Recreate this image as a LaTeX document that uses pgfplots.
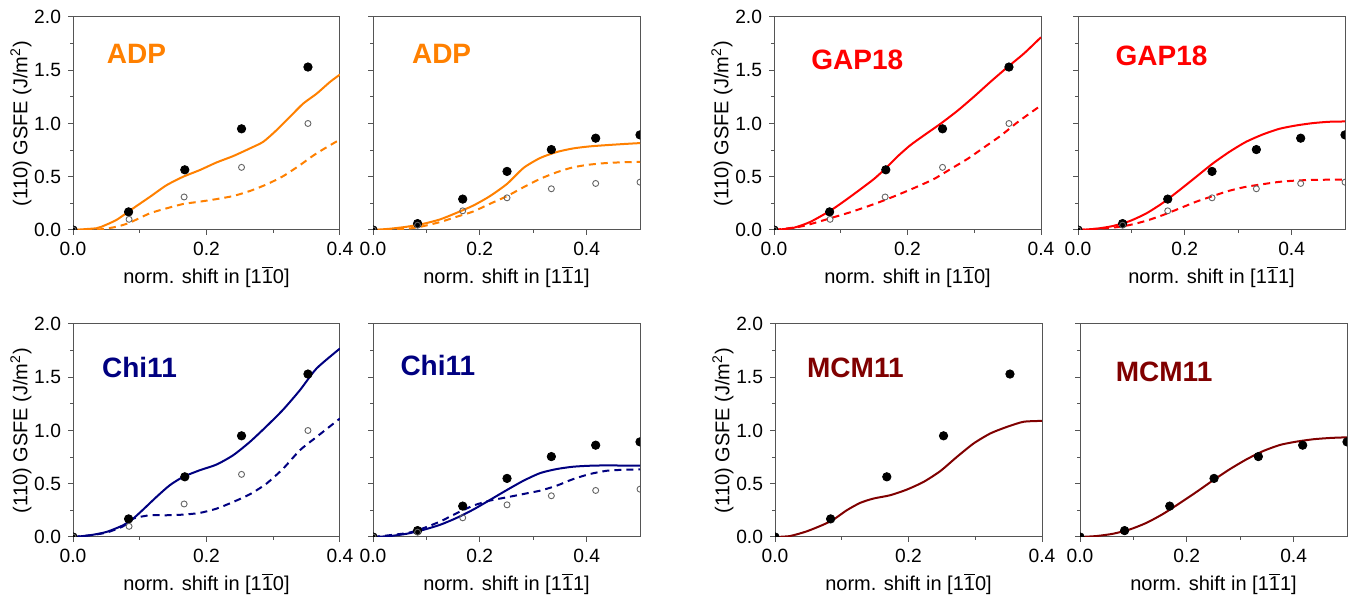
\documentclass[border=0pt]{standalone}
\usepackage{pgfplots}
\pgfplotsset{compat=1.18}
\usepackage{pgfplotstable}
\usepackage{fontspec}
\setmainfont{Liberation Sans}
\definecolor{cOra}{RGB}{255,128,0}
\definecolor{cRed}{RGB}{255,0,0}
\definecolor{cNavy}{RGB}{0,0,128}
\definecolor{cWine}{RGB}{128,0,0}
\definecolor{axgray}{RGB}{85,85,85}
\definecolor{opengray}{RGB}{100,100,100}

% reference (DFT) points
\pgfplotstableread{
x y
0 0
0.0833 0.17
0.1675 0.565
0.2525 0.95
0.352 1.53
}\refLfull
\pgfplotstableread{
x y
0 0
0.084 0.10
0.1665 0.31
0.2525 0.588
0.352 1.0
}\refLopen
\pgfplotstableread{
x y
0 0
0.0835 0.06
0.168 0.29
0.251 0.55
0.334 0.755
0.417 0.862
0.5 0.893
}\refRfull
\pgfplotstableread{
x y
0 0
0.0835 0.045
0.168 0.18
0.251 0.302
0.334 0.387
0.417 0.437
0.5 0.449
}\refRopen

\newcommand{\ob}[1]{$\overline{\mbox{#1}}$}
\newcommand{\ylab}{(110) GSFE (J/m\textsuperscript{2})}
\newcommand{\xlabA}{norm. shift in [1\ob{1}0]}
\newcommand{\xlabB}{norm. shift in [1\ob{1}1]}

\tikzset{ttl/.style={font=\bfseries\fontsize{14}{16}\selectfont, anchor=center}}

\pgfplotsset{
  gsfe/.style={
    scale only axis, width=133.5pt, height=106.5pt,
    anchor=south west,
    ymin=0, ymax=2, ytick={0,0.5,1,1.5,2}, minor y tick num=1,
    xmin=0, xtick={0,0.2,0.4}, minor x tick num=1,
    tick pos=left, tick align=outside,
    major tick length=2.5pt, minor tick length=1.5pt,
    axis line style={draw=axgray, line width=0.5pt},
    every tick/.style={draw=axgray, line width=0.5pt},
    ticklabel style={font=\fontsize{9.6}{12}\selectfont},
    label style={font=\fontsize{9.8}{12}\selectfont},
    clip marker paths=true,
    /pgf/number format/fixed,
    /pgf/number format/fixed zerofill,
    /pgf/number format/precision=1,
    /pgf/number format/assume math mode=true,
    every axis x label/.style={at={(axis description cs:0.5,-0.22)}, anchor=center},
    every axis y label/.style={at={(axis description cs:-0.195,0.5)}, rotate=90, anchor=center},
  },
  gsfeL/.style={gsfe, xmax=0.4, ylabel={\ylab}, xlabel={\xlabA}},
  gsfeR/.style={gsfe, xmax=0.5, yticklabels={}, xlabel={\xlabB}},
  full/.style={only marks, mark=*, mark size=2.1pt, mark options={fill=black, draw=black}},
  openpt/.style={only marks, mark=o, mark size=1.5pt, mark options={draw=opengray, line width=0.45pt}},
  cs/.style={no marks, line width=1pt, smooth, tension=0.4},
  cd/.style={no marks, line width=1pt, smooth, tension=0.4, dash pattern=on 3.5pt off 2.5pt},
}

\begin{document}
\begin{tikzpicture}
\useasboundingbox (0,0) rectangle (677.5pt,298.5pt);

% ---------- ADP, [1-10]
\begin{axis}[gsfeL, at={(36.5pt,183.5pt)}]
\addplot[cs, cOra] coordinates {(0,0) (0.035,0.016) (0.0425,0.03) (0.065,0.094) (0.09,0.203) (0.115,0.31) (0.14,0.42) (0.165,0.5) (0.19,0.5625) (0.215,0.634) (0.24,0.694) (0.265,0.766) (0.285,0.828) (0.305,0.9375) (0.325,1.0625) (0.345,1.1875) (0.365,1.28) (0.385,1.39) (0.4,1.46)};
\addplot[cd, cOra] coordinates {(0,0) (0.04,0.006) (0.065,0.03) (0.085,0.069) (0.115,0.156) (0.14,0.203) (0.165,0.244) (0.19,0.266) (0.215,0.29) (0.24,0.319) (0.265,0.366) (0.29,0.428) (0.315,0.506) (0.34,0.609) (0.365,0.72) (0.4,0.85)};
\addplot[full] table {\refLfull};
\addplot[openpt] table {\refLopen};
\node[ttl, text=cOra] at (rel axis cs:0.238,0.826) {ADP};
\end{axis}

% ---------- ADP, [1-11]
\begin{axis}[gsfeR, at={(186.5pt,183.5pt)}]
\addplot[cs, cOra] coordinates {(0,0) (0.032,0.012) (0.064,0.031) (0.095,0.059) (0.126,0.1) (0.157,0.162) (0.188,0.23) (0.219,0.318) (0.251,0.433) (0.282,0.583) (0.313,0.676) (0.344,0.732) (0.375,0.766) (0.406,0.785) (0.438,0.797) (0.469,0.807) (0.5,0.816)};
\addplot[cd, cOra] coordinates {(0,0) (0.064,0.012) (0.095,0.037) (0.126,0.075) (0.157,0.125) (0.188,0.174) (0.219,0.246) (0.251,0.318) (0.282,0.402) (0.313,0.48) (0.344,0.542) (0.375,0.589) (0.406,0.614) (0.438,0.629) (0.469,0.636) (0.5,0.639)};
\addplot[full] table {\refRfull};
\addplot[openpt] table {\refRopen};
\node[ttl, text=cOra] at (rel axis cs:0.257,0.826) {ADP};
\end{axis}

% ---------- GAP18, [1-10]
\begin{axis}[gsfeL, at={(387pt,183.5pt)}]
\addplot[cs, cRed] coordinates {(0,0) (0.029,0.02) (0.054,0.075) (0.084,0.18) (0.105,0.27) (0.129,0.38) (0.15,0.48) (0.167,0.577) (0.185,0.69) (0.204,0.795) (0.225,0.89) (0.25,1.0) (0.275,1.12) (0.3,1.254) (0.325,1.395) (0.35,1.53) (0.375,1.66) (0.4,1.81)};
\addplot[cd, cRed] coordinates {(0,0) (0.039,0.031) (0.064,0.072) (0.089,0.119) (0.114,0.166) (0.139,0.219) (0.164,0.276) (0.189,0.339) (0.215,0.408) (0.24,0.48) (0.265,0.574) (0.29,0.668) (0.315,0.777) (0.34,0.887) (0.365,1.0125) (0.4,1.17)};
\addplot[full] table {\refLfull};
\addplot[openpt] table {\refLopen};
\node[ttl, text=cRed] at (rel axis cs:0.312,0.80) {GAP18};
\end{axis}

% ---------- GAP18, [1-11]
\begin{axis}[gsfeR, at={(539pt,183.5pt)}]
\addplot[cs, cRed] coordinates {(0,0) (0.034,0.012) (0.065,0.037) (0.097,0.084) (0.128,0.156) (0.159,0.255) (0.19,0.374) (0.221,0.498) (0.252,0.623) (0.283,0.732) (0.314,0.826) (0.346,0.897) (0.377,0.95) (0.408,0.981) (0.439,1.003) (0.47,1.016) (0.5,1.019)};
\addplot[cd, cRed] coordinates {(0,0) (0.065,0.022) (0.097,0.047) (0.128,0.087) (0.159,0.14) (0.19,0.202) (0.221,0.265) (0.252,0.318) (0.283,0.368) (0.314,0.405) (0.346,0.43) (0.377,0.452) (0.408,0.464) (0.439,0.47) (0.5,0.474)};
\addplot[full] table {\refRfull};
\addplot[openpt] table {\refRopen};
\node[ttl, text=cRed] at (rel axis cs:0.313,0.818) {GAP18};
\end{axis}

% ---------- Chi11, [1-10]
\begin{axis}[gsfeL, at={(36.5pt,30pt)}]
\addplot[cs, cNavy] coordinates {(0,0) (0.025,0.016) (0.05,0.047) (0.075,0.11) (0.09,0.172) (0.105,0.257) (0.125,0.376) (0.145,0.486) (0.165,0.564) (0.19,0.627) (0.215,0.68) (0.24,0.768) (0.265,0.893) (0.29,1.04) (0.315,1.197) (0.34,1.379) (0.365,1.583) (0.4,1.77)};
\addplot[cd, cNavy] coordinates {(0,0) (0.025,0.016) (0.05,0.041) (0.075,0.1) (0.09,0.172) (0.115,0.204) (0.14,0.204) (0.165,0.21) (0.19,0.226) (0.215,0.266) (0.24,0.329) (0.265,0.401) (0.29,0.502) (0.315,0.643) (0.34,0.815) (0.365,0.94) (0.4,1.113)};
\addplot[full] table {\refLfull};
\addplot[openpt] table {\refLopen};
\node[ttl, text=cNavy] at (rel axis cs:0.249,0.796) {Chi11};
\end{axis}

% ---------- Chi11, [1-11]
\begin{axis}[gsfeR, at={(186.5pt,30pt)}]
\addplot[cs, cNavy] coordinates {(0,0) (0.032,0.009) (0.064,0.031) (0.095,0.068) (0.126,0.115) (0.157,0.18) (0.188,0.258) (0.219,0.348) (0.251,0.442) (0.282,0.529) (0.313,0.6) (0.344,0.638) (0.375,0.66) (0.406,0.669) (0.438,0.672) (0.5,0.669)};
\addplot[cd, cNavy] coordinates {(0,0) (0.064,0.037) (0.095,0.084) (0.126,0.146) (0.157,0.224) (0.188,0.295) (0.219,0.342) (0.251,0.373) (0.282,0.404) (0.313,0.435) (0.344,0.482) (0.375,0.544) (0.406,0.591) (0.438,0.622) (0.469,0.631) (0.5,0.634)};
\addplot[full] table {\refRfull};
\addplot[openpt] table {\refRopen};
\node[ttl, text=cNavy] at (rel axis cs:0.243,0.805) {Chi11};
\end{axis}

% ---------- MCM11, [1-10]
\begin{axis}[gsfeL, at={(387.5pt,30pt)}]
\addplot[cs, cWine] coordinates {(0,0) (0.0225,0.009) (0.0475,0.053) (0.0725,0.116) (0.0875,0.163) (0.1075,0.251) (0.1275,0.32) (0.1475,0.361) (0.1725,0.392) (0.1975,0.445) (0.2225,0.517) (0.2475,0.618) (0.2725,0.752) (0.2975,0.878) (0.3225,0.972) (0.3475,1.034) (0.3725,1.082) (0.4,1.09)};
\addplot[full] table {\refLfull};
\node[ttl, text=cWine] at (rel axis cs:0.301,0.793) {MCM11};
\end{axis}

% ---------- MCM11, [1-11]
\begin{axis}[gsfeR, at={(540pt,30pt)}]
\addplot[cs, cWine] coordinates {(0,0) (0.031,0.009) (0.0625,0.031) (0.094,0.072) (0.125,0.134) (0.156,0.218) (0.1875,0.32) (0.219,0.426) (0.25,0.535) (0.281,0.638) (0.3125,0.731) (0.344,0.809) (0.375,0.865) (0.406,0.896) (0.4375,0.918) (0.469,0.93) (0.5,0.936)};
\addplot[full] table {\refRfull};
\node[ttl, text=cWine] at (rel axis cs:0.315,0.775) {MCM11};
\end{axis}
\end{tikzpicture}
\end{document}
